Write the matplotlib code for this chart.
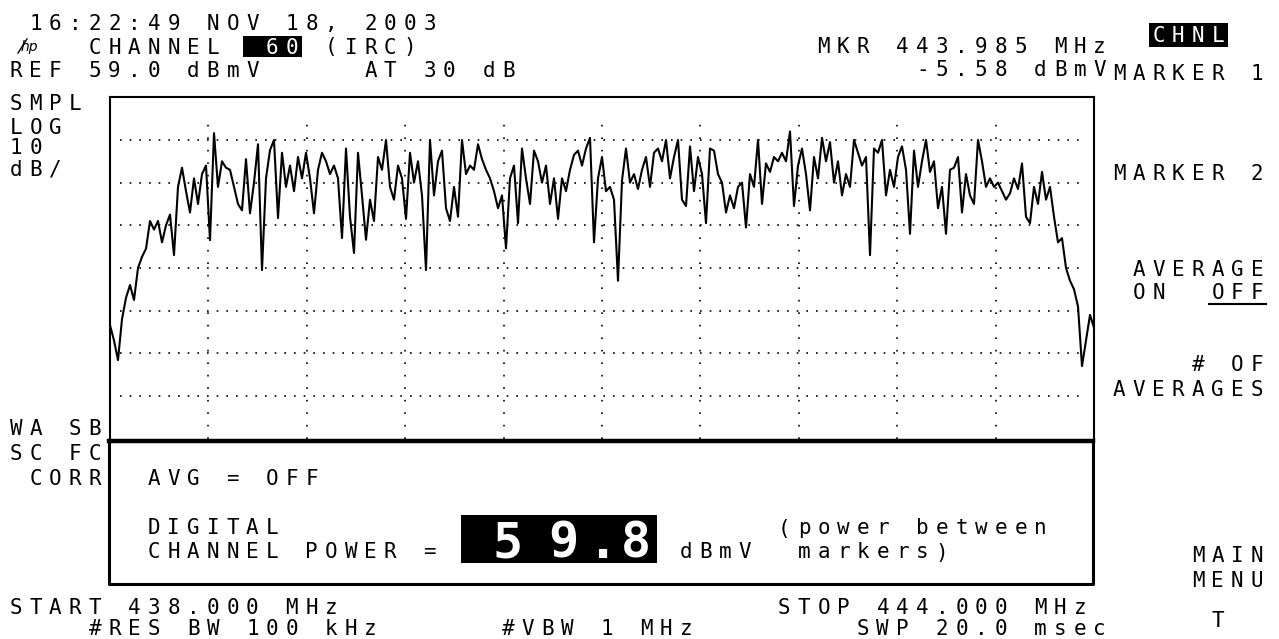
import matplotlib
matplotlib.use("Agg")
import matplotlib.pyplot as plt
from matplotlib.patches import Rectangle
import numpy as np

W, H = 1279, 639

START_MHZ = 438.0
STOP_MHZ = 444.0
REF_DBMV = 59.0
DB_PER_DIV = 10.0
N_VDIV = 8
N_HDIV = 10

# trace, dBmV, evenly spaced over the sweep
trace_dbmv = [
    5.6, 2, -2.6, 7, 12, 15, 11.5, 19, 21.6, 23.5,
    30, 28, 30, 25, 29, 31.5, 22, 38, 42.5, 37,
    32, 40, 34, 41, 43, 25.5, 50.6, 38, 44, 42.5,
    42, 38, 34, 32.5, 44.5, 31.8, 39, 48, 18.5, 40,
    46.6, 49, 30.7, 46, 38, 43, 37, 45, 40, 46,
    40, 31.8, 42, 46, 44, 41, 43, 40, 26, 47,
    31, 22.5,
    46, 36, 25.6, 35, 30, 45, 42, 49, 38, 35,
    43, 40, 30.5, 46, 39, 44, 36, 18.5, 49, 36,
    44, 46.5, 33, 30, 38, 31, 49, 41, 43, 42,
    48, 44.5, 42, 40, 37, 33, 36, 23.6, 40, 43,
    29.5, 47, 40, 34, 46.5, 44, 39, 43, 34, 40,
    30.5, 40, 37, 42, 45.5, 46.5, 43, 47, 49.5, 25,
    40,
    45, 37, 38, 35, 16, 39.5, 47, 39, 41, 37.5,
    42, 45, 38, 46, 47, 44, 49, 40, 45, 49,
    35, 33.5, 47.5, 37, 45, 41, 29.5, 47, 46.5, 41,
    39, 32, 36, 33, 38, 39, 28.5, 41, 38, 49,
    34, 43.5, 41.5, 45, 44, 46, 44, 51, 33.5, 43,
    47, 41, 32.5, 45, 40, 49.5, 44, 48.5, 39, 44,
    36,
    41, 38, 49, 46, 43, 45, 22, 47, 46, 49,
    36, 42, 38, 45, 47.5, 42, 27, 46.5, 38, 44,
    49, 41.5, 44, 33, 38, 27, 42, 42.5, 45, 32,
    41, 36, 34, 49, 44, 38, 40, 38, 39, 37,
    35, 36.5, 40, 37.5, 43.5, 31, 29.5, 38, 34, 41.5,
    35, 38, 31, 25, 26, 19, 16, 14, 10, -4,
    2, 8, 5,
]
freq_mhz = np.linspace(START_MHZ, STOP_MHZ, len(trace_dbmv))

channel_power = "59.8"

MONO = "DejaVu Sans Mono"
PITCH = 19.7   # width of one character cell on the screen, px
CELL0 = 16.0   # centre of the first cell, px
FS = 15

fig = plt.figure(figsize=(W / 100, H / 100), dpi=100)
fig.patch.set_facecolor("white")

# graticule
gl, gr, gt, gb = 110, 1094, 97.3, 438.6
ax = fig.add_axes([gl / W, 1 - gb / H, (gr - gl) / W, (gb - gt) / H])
ax.set_xlim(START_MHZ, STOP_MHZ)
ax.set_ylim(REF_DBMV - N_VDIV * DB_PER_DIV, REF_DBMV)
ax.set_xticks([])
ax.set_yticks([])
for sp in ax.spines.values():
    sp.set_linewidth(1.5)
ax.spines["bottom"].set_visible(False)

span = STOP_MHZ - START_MHZ
for k in range(1, N_VDIV):
    ax.axhline(REF_DBMV - k * DB_PER_DIV, xmin=0.01, xmax=0.99, color="black",
               lw=1.2, dashes=(1, 4.8), dash_capstyle="butt")
for k in range(1, N_HDIV):
    ax.axvline(START_MHZ + k * span / N_HDIV, ymin=0.0, ymax=0.94, color="black",
               lw=1.2, dashes=(1, 6.5), dash_capstyle="butt")

ax.plot(freq_mhz, trace_dbmv, color="black", lw=1.5)

# overlay in screen pixels for the annotation text
ov = fig.add_axes([0, 0, 1, 1], facecolor="none")
ov.set_xlim(0, W)
ov.set_ylim(H, 0)
ov.axis("off")


def cx(cell):
    return CELL0 + cell * PITCH


def row(cell, y, s, color="black", size=FS):
    for i, ch in enumerate(s):
        if ch != " ":
            ov.text(cx(cell + i), y + 7.5, ch, ha="center", va="baseline",
                    family=MONO, fontsize=size, color=color)


def inverse_box(cell0, cell1, y0, y1):
    ov.add_patch(Rectangle((cx(cell0) - PITCH / 2, y0),
                           (cell1 - cell0 + 1) * PITCH, y1 - y0,
                           color="black", lw=0))


# header
row(0, 22, " 16:22:49 NOV 18, 2003")
ov.text(29, 51, "hp", ha="center", va="baseline", family="DejaVu Sans",
        style="italic", fontsize=10, color="black")
ov.plot([18, 27], [53, 39], color="black", lw=1)
row(4, 46, "CHANNEL")
inverse_box(12, 14, 36, 57)
row(13, 46, "60", color="white")
row(16, 46, "(IRC)")
row(0, 69.5, "REF 59.0 dBmV")
row(18, 69.5, "AT 30 dB")
row(41, 45.5, "MKR 443.985 MHz")
row(46, 68.5, "-5.58 dBmV")
inverse_box(58, 61, 23, 47)
row(58, 35, "CHNL", color="white")

# left annotations
row(0, 103, "SMPL")
row(0, 126, "LOG")
row(0, 147, "10")
row(0, 168, "dB/")
row(0, 427.5, "WA SB")
row(0, 452.5, "SC FC")
row(1, 477.5, "CORR")

# softkey menu
row(56, 72.5, "MARKER 1")
row(56, 172.5, "MARKER 2")
row(57, 268, "AVERAGE")
row(57, 291.5, "ON")
row(61, 291.5, "OFF")
ov.plot([cx(61) - PITCH / 2 + 1, cx(63) + PITCH / 2 - 1], [304, 304],
        color="black", lw=1.5)
row(60, 363.5, "# OF")
row(56, 388.5, "AVERAGES")
row(60, 555, "MAIN")
row(60, 579.5, "MENU")
row(61, 619.5, "T")

# channel power box
ov.plot([109, 1093], [441, 441], color="black", lw=3.2, solid_capstyle="projecting")
ov.plot([109, 109, 1093, 1093], [441, 584, 584, 441], color="black", lw=2.2,
        solid_capstyle="projecting")
row(7, 477.5, "AVG = OFF")
row(7, 526.5, "DIGITAL")
row(7, 550, "CHANNEL POWER =")
ov.add_patch(Rectangle((461, 515), 196, 48, color="black", lw=0))
for ch, x in zip(channel_power, [508, 563, 603, 636]):
    ov.text(x, 558, ch, ha="center", va="baseline", family=MONO,
            fontsize=36, fontweight="bold", color="white")
row(34, 551, "dBmV")
row(39, 527, "(power between")
row(40, 551, "markers)")

# footer
row(0, 607, "START 438.000 MHz")
row(39, 607, "STOP 444.000 MHz")
row(4, 627.5, "#RES BW 100 kHz")
row(25, 627.5, "#VBW 1 MHz")
row(43, 627.5, "SWP 20.0 msec")

fig.savefig("out.png", dpi=100, facecolor="white")
